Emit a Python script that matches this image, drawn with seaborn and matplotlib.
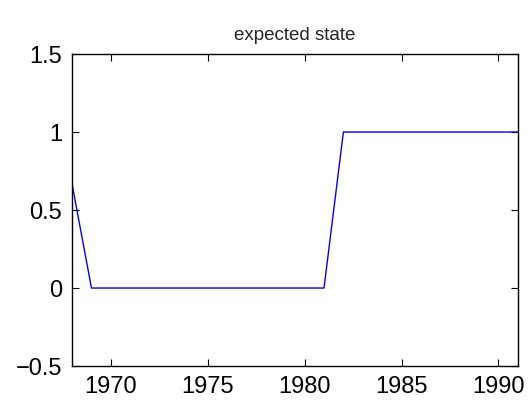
import numpy as np
import pandas as pd
import matplotlib
matplotlib.use("Agg")
import matplotlib.pyplot as plt
import seaborn as sns

years = [1968, 1969, 1970, 1971, 1972, 1973, 1974, 1975, 1976, 1977, 1978, 1979,
         1980, 1981, 1982, 1983, 1984, 1985, 1986, 1987, 1988, 1989, 1990, 1991]
state = [0.667, 0, 0, 0, 0, 0, 0, 0, 0, 0, 0, 0,
         0, 0, 1, 1, 1, 1, 1, 1, 1, 1, 1, 1]
xticks = [1970, 1975, 1980, 1985, 1990]
yticks = [-0.5, 0, 0.5, 1, 1.5]
ytick_labels = ["\u22120.5", "0", "0.5", "1", "1.5"]

df = pd.DataFrame({"year": years, "state": state})

sns.set_style("white")
plt.rcParams["font.family"] = ["Liberation Sans", "DejaVu Sans"]

fig = plt.figure(figsize=(5.30, 4.07), dpi=100)
ax = fig.add_axes([0.136, 0.1007, 0.841, 0.7665])

sns.lineplot(data=df, x="year", y="state", ax=ax, color="#0000ff", linewidth=1.0)

ax.set_xlim(1968, 1991)
ax.set_ylim(-0.5, 1.5)
ax.set_xticks(xticks)
ax.set_xticklabels([str(t) for t in xticks])
ax.set_yticks(yticks)
ax.set_yticklabels(ytick_labels)
ax.set_xlabel("")
ax.set_ylabel("")
ax.set_title("expected state", fontsize=13.5, pad=10)

for s in ax.spines.values():
    s.set_visible(True)
    s.set_color("black")
    s.set_linewidth(1.0)

ax.tick_params(direction="in", length=5, width=0.8, color="black",
               top=True, right=True, bottom=True, left=True,
               labelsize=17, labelcolor="black")
ax.tick_params(axis="x", pad=7)
ax.tick_params(axis="y", pad=7)

fig.savefig("out.png", dpi=100, facecolor="white")
